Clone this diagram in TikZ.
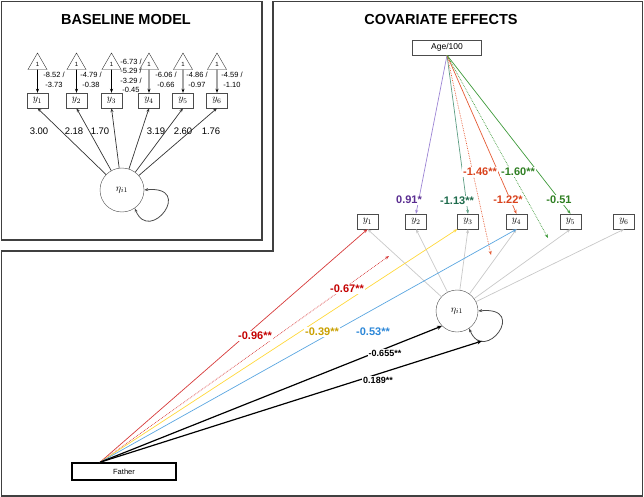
\documentclass[tikz,border=0pt]{standalone}
\usepackage{fontspec}
\setmainfont{Liberation Sans}
\usetikzlibrary{positioning, arrows.meta, shapes.geometric}

\definecolor{framegray}{HTML}{404040}
\definecolor{grayline}{HTML}{C8C8C8}
\definecolor{purpleline}{HTML}{9C84D4}
\definecolor{purplelab}{HTML}{5A2D91}
\definecolor{tealline}{HTML}{5E9E84}
\definecolor{teallab}{HTML}{1E6B4C}
\definecolor{orangeline}{HTML}{E55B35}
\definecolor{orangelab}{HTML}{D9421C}
\definecolor{greenline}{HTML}{3E9A3A}
\definecolor{greenlab}{HTML}{2F7F22}
\definecolor{redline}{HTML}{D63A3A}
\definecolor{redlab}{HTML}{C40000}
\definecolor{yellowline}{HTML}{FFD83A}
\definecolor{yellowlab}{HTML}{C9A000}
\definecolor{blueline}{HTML}{5AA6E0}
\definecolor{bluelab}{HTML}{2C87D8}

\begin{document}
\begin{tikzpicture}[
    x=1pt, y=-1pt,
    arrow/.style={-{Stealth[length=4pt, width=3pt]}, line width=0.7pt},
    bigarrow/.style={-{Stealth[length=5pt, width=4pt]}, line width=1.2pt},
    looparrow/.style={{Stealth[length=4pt, width=3pt]}-{Stealth[length=4pt, width=3pt]}, line width=0.8pt, black!70},
    frame/.style={draw=framegray, line width=1.5pt},
    obs/.style={draw=black!70, rectangle, minimum width=21pt, minimum height=15pt, inner sep=0pt},
    latent/.style={draw=black!70, circle, minimum size=44pt, inner sep=0pt},
    const/.style={draw=black!80, regular polygon, regular polygon sides=3, minimum size=22pt, inner sep=0pt, font=\fontsize{6}{6}\selectfont},
    est/.style={font=\bfseries\fontsize{11}{11}\selectfont, fill=white, inner sep=1pt},
    estsmall/.style={font=\bfseries\fontsize{9}{9}\selectfont, fill=white, inner sep=1pt},
    title/.style={font=\bfseries\fontsize{14.5}{16}\selectfont}
]
    \useasboundingbox (0,0) rectangle (644,497);

    % Frames
    \draw[frame] (1.5,1.5) rectangle (262,240);
    \draw[frame] (273,1.5) -- (642.5,1.5) -- (642.5,496) -- (1.5,496) -- (1.5,251) -- (273,251) -- cycle;

    % Titles
    \node[title] (basetitle) at (126,20) {BASELINE MODEL};
    \node[title] (covtitle) at (441,20) {COVARIATE EFFECTS};

    % BASELINE MODEL
    \node[latent] (etaL) at (122,190) {$\eta_{i1}$};
    \foreach \i/\x in {1/37.5, 2/76.5, 3/111.5, 4/149, 5/183, 6/217} {
        \node[const] (tri\i) at (\x,64) {1};
        \node[obs] (yL\i) at (\x,100.5) {$y_{\i}$};
        \draw[arrow] (tri\i.south) -- (yL\i.north);
        \draw[arrow, black!80] (etaL) -- (yL\i.south);
    }
    \draw[looparrow] (etaL.0) .. controls +(51,-5) and +(15,37) .. (etaL.-55);

    % Intercepts
    \foreach \x/\y/\lab in {54/80/{-8.52 /\\-3.73}, 91/80/{-4.79 /\\-0.38}, 131/76/{-6.73 /\\-5.29 /\\-3.29 /\\-0.45},
                            166/80/{-6.06 /\\-0.66}, 197/80/{-4.86 /\\-0.97}, 232/80/{-4.59 /\\-1.10}} {
        \node[align=center, font=\fontsize{7.5}{9.5}\selectfont, inner sep=0pt] at (\x,\y) {\lab};
    }

    % Loadings
    \foreach \x/\lab in {39/3.00, 74/2.18, 100/1.70, 156/3.19, 183/2.60, 211/1.76} {
        \node[font=\fontsize{9.5}{10}\selectfont] at (\x,131) {\lab};
    }

    % COVARIATE EFFECTS
    \node[draw=black!70, minimum width=69pt, minimum height=15pt, inner sep=0pt, font=\fontsize{8.5}{9}\selectfont] (age) at (447,47.5) {Age/100};
    \node[draw, line width=1.5pt, minimum width=104pt, minimum height=17pt, inner sep=0pt, font=\fontsize{7.5}{8}\selectfont] (father) at (124,471.5) {Father};
    \node[latent, minimum size=42pt] (etaR) at (457,311) {$\eta_{i1}$};
    \foreach \i/\x in {1/367.5, 2/416, 3/468, 4/516.5, 5/570.5, 6/624} {
        \node[obs] (yR\i) at (\x,221.5) {$y_{\i}$};
        \draw[arrow, grayline] (etaR) -- (yR\i.south);
    }
    \draw[looparrow] (etaR.0) .. controls +(51,-5) and +(15,37) .. (etaR.-55);
    \coordinate (loopR) at (482,341);
    \coordinate (fsrc) at ([xshift=-24pt]father.north);
    \coordinate (fdot) at (389,256);
    \coordinate (adotred) at (491,255);
    \coordinate (adotgreen) at (548,238);

    % Age arrows
    \draw[arrow, purpleline] (age.south) -- (yR2.north);
    \draw[arrow, tealline] (age.south) -- (yR3.north);
    \draw[arrow, orangeline, densely dotted] (age.south) -- (adotred);
    \draw[arrow, orangeline] (age.south) -- (yR4.north);
    \draw[arrow, greenline, densely dotted] (age.south) -- (adotgreen);
    \draw[arrow, greenline] (age.south) -- (yR5.north);

    % Father arrows
    \draw[arrow, redline] (fsrc) -- (yR1.south);
    \draw[arrow, redline, densely dotted] (fsrc) -- (fdot);
    \draw[arrow, yellowline] (fsrc) -- (yR3.south west);
    \draw[arrow, blueline] (fsrc) -- (yR4.south);
    \draw[bigarrow] (fsrc) -- (etaR.south west);
    \draw[bigarrow] (fsrc) -- (loopR);

    % Estimates
    \node[est, text=purplelab] at (409,200) {0.91*};
    \node[est, text=teallab] at (457,201) {-1.13**};
    \node[est, text=orangelab] at (480,172) {-1.46**};
    \node[est, text=orangelab] at (508,200) {-1.22*};
    \node[est, text=greenlab] at (518,172) {-1.60**};
    \node[est, text=greenlab] at (559,200) {-0.51};
    \node[est, text=redlab] at (255,336) {-0.96**};
    \node[est, text=redlab] at (347,289) {-0.67**};
    \node[est, text=yellowlab] at (322,332) {-0.39**};
    \node[est, text=bluelab] at (373,332) {-0.53**};
    \node[estsmall] at (385,353) {-0.655**};
    \node[estsmall] at (378,380) {0.189**};

\end{tikzpicture}
\end{document}
